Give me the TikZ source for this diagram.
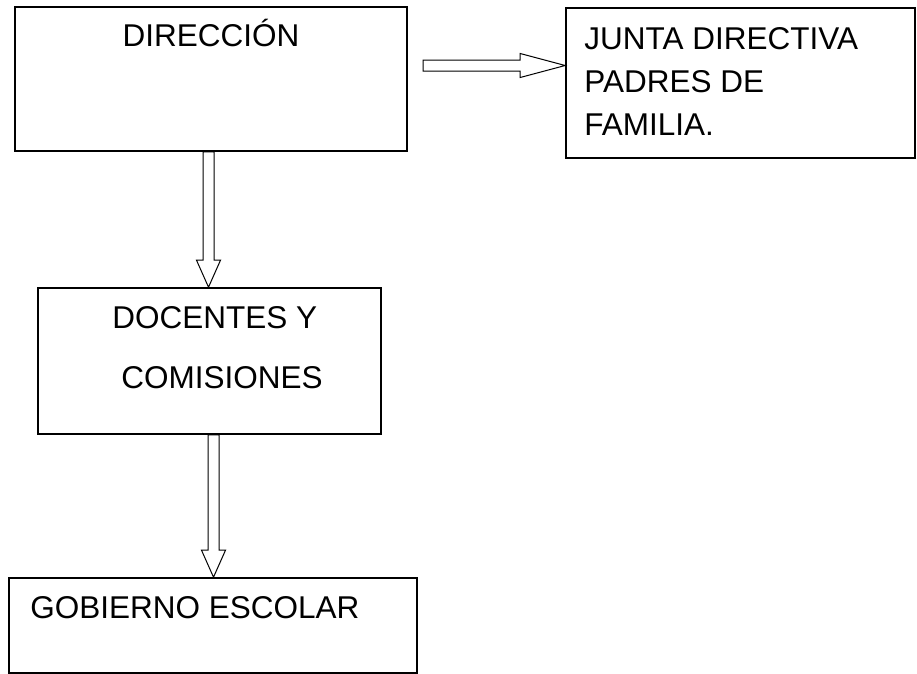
\documentclass[tikz,border=0pt]{standalone}
\usepackage{fontspec}
\setmainfont{Liberation Sans}
\usetikzlibrary{calc}
\tikzset{box/.style={draw,line width=1.6pt,rectangle,inner sep=0pt},
txt/.style={inner sep=0pt,font=\fontsize{31.5}{43}\selectfont},
arrowline/.style={line width=1pt,line join=miter}}
\newcommand{\hollowarrow}[3][27pt]{%
\coordinate(hb)at($(#3)!#1!(#2)$);
\draw[arrowline]($(#2)!5.5pt!90:(#3)$)--($(hb)!5.5pt!-90:(#2)$)--($(hb)!12pt!-90:(#2)$)--(#3)
--($(hb)!12pt!90:(#2)$)--($(hb)!5.5pt!90:(#2)$)--($(#2)!5.5pt!-90:(#3)$)--cycle;}
\begin{document}
\begin{tikzpicture}[x=1pt,y=-1pt]
\useasboundingbox(0,0)rectangle(917,673);
\node[box,minimum width=392pt,minimum height=144pt](dir)at(211,79){};
\node[box,minimum width=349pt,minimum height=150pt](junta)at(740.5,83){};
\node[box,minimum width=343pt,minimum height=146pt](doc)at(209.5,361){};
\node[box,minimum width=408pt,minimum height=95pt](gob)at(213,625.5){};
\node[txt,anchor=base](dirtxt)at([yshift=-40pt]dir.north){DIRECCIÓN};
\node[txt,anchor=north west,align=left](juntatxt)at([xshift=19pt,yshift=-20pt]junta.north west){JUNTA DIRECTIVA\\PADRES DE\\FAMILIA.};
\node[txt,anchor=north west,align=left,font=\fontsize{31.5}{60}\selectfont](doctxt)at([xshift=75pt,yshift=-19pt]doc.north west){DOCENTES Y\\\hspace*{9pt}COMISIONES};
\node[txt,anchor=base west](gobtxt)at([xshift=22pt,yshift=-41pt]gob.north west){GOBIERNO ESCOLAR};
\coordinate(h1)at(423,65.5);
\coordinate(h2)at(h1-|junta.west);
\coordinate(v1)at([xshift=-2.5pt]dir.south);
\coordinate(v2)at(v1|-doc.north);
\coordinate(v3)at([xshift=4pt]doc.south);
\coordinate(v4)at(v3|-gob.north);
\hollowarrow[45pt]{h1}{h2}
\hollowarrow{v1}{v2}
\hollowarrow{v3}{v4}
\end{tikzpicture}
\end{document}
